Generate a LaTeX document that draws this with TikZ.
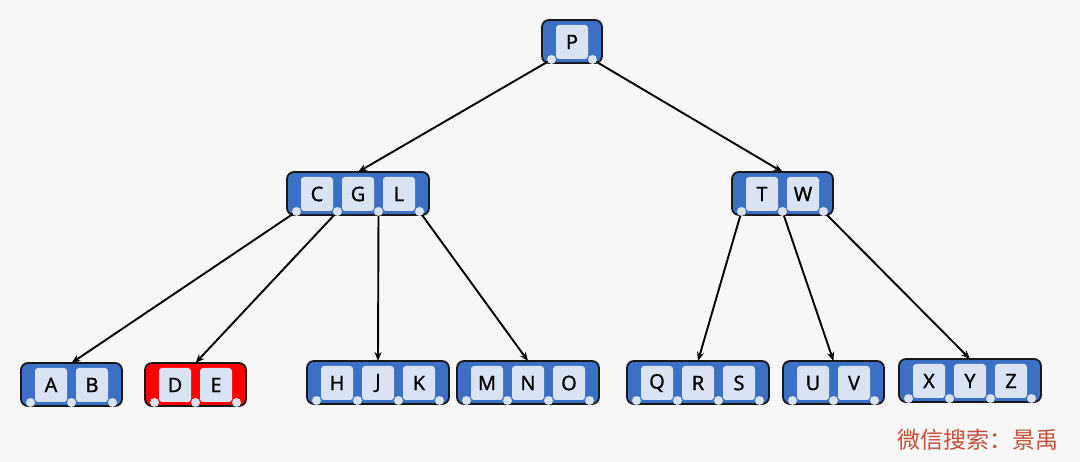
\documentclass[tikz,border=0pt]{standalone}
\usepackage{fontspec}
\setmainfont{Noto Sans}
\newfontfamily\keyfont[FakeBold=0.8]{Noto Sans}
\newfontfamily\cjk{Noto Sans CJK SC}
\usetikzlibrary{arrows.meta}
\definecolor{nodeblue}{RGB}{59,112,196}
\definecolor{keyfill}{RGB}{218,227,243}
\definecolor{markred}{RGB}{200,78,58}
\definecolor{paper}{RGB}{247,247,247}

% one B-tree node: name, left, top, fill colour, keys
\newcommand{\bnode}[5]{%
  \foreach \k [count=\i from 0] in {#5} {\xdef\nkeys{\i}}%
  \node[box, fill=#4, anchor=north west, minimum width={60pt+41pt*\nkeys}] (#1) at (#2,#3) {};
  \foreach \k [count=\i from 0] in {#5}
    \node[key] (#1-k\i) at ({#2+30+41*\i},{#3+22}) {\k};
  \pgfmathtruncatemacro\npins{\nkeys+1}%
  \foreach \j in {0,...,\npins}
    \node[pin] (#1-\j) at ({#2+9.5+41*\j},{#3+39.5}) {};
}

\begin{document}
\begin{tikzpicture}[x=1pt, y=-1pt,
    box/.style = {draw=black!90, line width=1.8pt, rounded corners=7pt,
                minimum height=43pt, inner sep=0pt, outer sep=0pt},
    key/.style = {fill=keyfill, rounded corners=3pt, minimum width=32pt,
                minimum height=34pt, inner sep=0pt,
                font=\keyfont\fontsize{20}{20}\selectfont},
    pin/.style = {circle, fill=keyfill, minimum size=9pt,
                inner sep=0pt, outer sep=0pt},
    link/.style = {black, line width=1.9pt, -{Stealth[length=9pt,width=7pt]}}
                    ]
    \useasboundingbox[fill=paper] (0,0) rectangle (1080,462);
    % root
    \bnode{p}{542}{20}{nodeblue}{P}
    % middle level
    \bnode{cgl}{287}{172}{nodeblue}{C,G,L}
    \bnode{tw}{732}{172}{nodeblue}{T,W}
    % leaves
    \bnode{ab}{21}{363}{nodeblue}{A,B}
    \bnode{de}{145}{363}{red}{D,E}
    \bnode{hjk}{307}{361}{nodeblue}{H,J,K}
    \bnode{mno}{457}{361}{nodeblue}{M,N,O}
    \bnode{qrs}{627}{361}{nodeblue}{Q,R,S}
    \bnode{uv}{783}{361}{nodeblue}{U,V}
    \bnode{xyz}{899}{359}{nodeblue}{X,Y,Z}
    \draw [link] (p-0) -- (cgl.north);
    \draw [link] (p-1) -- (tw.north);
    \draw [link] (cgl-0) -- (ab.north);
    \draw [link] (cgl-1) -- (de.north);
    \draw [link] (cgl-2) -- (hjk.north);
    \draw [link] (cgl-3) -- (mno.north);
    \draw [link] (tw-0) -- (qrs.north);
    \draw [link] (tw-1) -- (uv.north);
    \draw [link] (tw-2) -- (xyz.north);
    \node[text=markred, font=\cjk\fontsize{23}{23}\selectfont, anchor=west]
        (mark) at (894,440) {微信搜索：景禹};
\end{tikzpicture}
\end{document}
